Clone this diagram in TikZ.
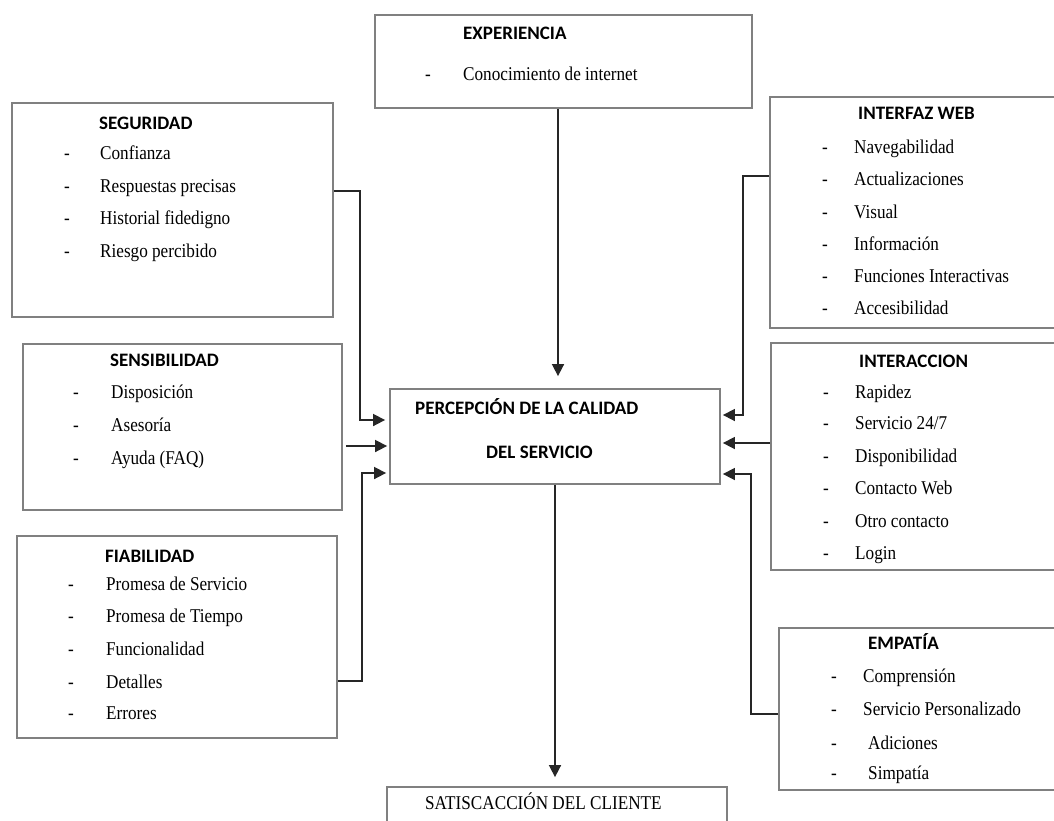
\documentclass[tikz,border=0pt]{standalone}
\usepackage{fontspec}
\setmainfont{Liberation Serif}
\newfontfamily\titlefont{Carlito}
\newfontfamily\itemfont[FakeStretch=0.88]{Liberation Serif}
\usetikzlibrary{arrows.meta}
\tikzset{
  box/.style={draw=black!50, line width=1.8pt, fill=white, inner sep=0pt, rectangle},
  conn/.style={draw=black!85, line width=1.6pt},
  arr/.style={conn, -{Triangle[length=12pt,width=12pt]}},
  ttl/.style={anchor=west, inner sep=0pt, text height=12.5pt, text depth=0pt, font=\titlefont\fontsize{19}{22}\selectfont\bfseries},
  itm/.style={anchor=west, inner sep=0pt, text height=13pt, text depth=0pt, font=\itemfont\fontsize{19.5}{22}\selectfont},
  dsh/.style={anchor=center, inner sep=0pt, text height=13pt, text depth=0pt, font=\itemfont\fontsize{19.5}{22}\selectfont},
}
\begin{document}
\begin{tikzpicture}[x=1pt,y=-1pt]
\useasboundingbox (0,0) rectangle (1054,820);
\clip (0,0) rectangle (1054,820);
\fill[white] (0,0) rectangle (1054,820);

% boxes
\node[box, minimum width=377pt, minimum height=93pt] (exp) at (563.5,61.5) {};
\node[box, minimum width=321pt, minimum height=214pt] (seg) at (172.5,210) {};
\node[box, minimum width=319pt, minimum height=166pt] (sen) at (182.5,427) {};
\node[box, minimum width=320pt, minimum height=202pt] (fia) at (177,637) {};
\node[box, minimum width=330pt, minimum height=95pt] (per) at (555,436.5) {};
\node[box, minimum width=290pt, minimum height=231pt] (iw) at (915,212.5) {};
\node[box, minimum width=289pt, minimum height=227pt] (int) at (915.5,456.5) {};
\node[box, minimum width=281pt, minimum height=162pt] (emp) at (919.5,709) {};
\node[box, minimum width=340pt, minimum height=53pt] (sat) at (557,813.5) {};

% EXPERIENCIA
\node[ttl] (expt) at (463,33) {EXPERIENCIA};
\node[dsh] (expd1) at (428,74) {-};
\node[itm] (expi1) at (463,74) {Conocimiento de internet};

% SEGURIDAD
\node[ttl] (segt) at (99,123) {SEGURIDAD};
\node[dsh] (segd1) at (67,153) {-};
\node[itm] (segi1) at (100,153) {Confianza};
\node[dsh] (segd2) at (67,186) {-};
\node[itm] (segi2) at (100,186) {Respuestas precisas};
\node[dsh] (segd3) at (67,218) {-};
\node[itm] (segi3) at (100,218) {Historial fidedigno};
\node[dsh] (segd4) at (67,251) {-};
\node[itm] (segi4) at (100,251) {Riesgo percibido};

% SENSIBILIDAD
\node[ttl] (sent) at (110,360) {SENSIBILIDAD};
\node[dsh] (send1) at (76,392) {-};
\node[itm] (seni1) at (111,392) {Disposición};
\node[dsh] (send2) at (76,425) {-};
\node[itm] (seni2) at (111,425) {Asesoría};
\node[dsh] (send3) at (76,458) {-};
\node[itm] (seni3) at (111,458) {Ayuda (FAQ)};

% FIABILIDAD
\node[ttl] (fiat) at (105,556) {FIABILIDAD};
\node[dsh] (fiad1) at (71,584) {-};
\node[itm] (fiai1) at (106,584) {Promesa de Servicio};
\node[dsh] (fiad2) at (71,616) {-};
\node[itm] (fiai2) at (106,616) {Promesa de Tiempo};
\node[dsh] (fiad3) at (71,649) {-};
\node[itm] (fiai3) at (106,649) {Funcionalidad};
\node[dsh] (fiad4) at (71,682) {-};
\node[itm] (fiai4) at (106,682) {Detalles};
\node[dsh] (fiad5) at (71,713) {-};
\node[itm] (fiai5) at (106,713) {Errores};

% PERCEPCION
\node[ttl] (pert1) at (415,408) {PERCEPCIÓN DE LA CALIDAD};
\node[ttl] (pert2) at (486,452) {DEL SERVICIO};

% INTERFAZ WEB
\node[ttl] (iwt) at (858,113) {INTERFAZ WEB};
\node[dsh] (iwd1) at (825,147) {-};
\node[itm] (iwi1) at (854,147) {Navegabilidad};
\node[dsh] (iwd2) at (825,179) {-};
\node[itm] (iwi2) at (854,179) {Actualizaciones};
\node[dsh] (iwd3) at (825,212) {-};
\node[itm] (iwi3) at (854,212) {Visual};
\node[dsh] (iwd4) at (825,244) {-};
\node[itm] (iwi4) at (854,244) {Información};
\node[dsh] (iwd5) at (825,276) {-};
\node[itm] (iwi5) at (854,276) {Funciones Interactivas};
\node[dsh] (iwd6) at (825,308) {-};
\node[itm] (iwi6) at (854,308) {Accesibilidad};

% INTERACCION
\node[ttl] (intt) at (859,361) {INTERACCION};
\node[dsh] (intd1) at (826,392) {-};
\node[itm] (inti1) at (855,392) {Rapidez};
\node[dsh] (intd2) at (826,423) {-};
\node[itm] (inti2) at (855,423) {Servicio 24/7};
\node[dsh] (intd3) at (826,456) {-};
\node[itm] (inti3) at (855,456) {Disponibilidad};
\node[dsh] (intd4) at (826,488) {-};
\node[itm] (inti4) at (855,488) {Contacto Web};
\node[dsh] (intd5) at (826,521) {-};
\node[itm] (inti5) at (855,521) {Otro contacto};
\node[dsh] (intd6) at (826,553) {-};
\node[itm] (inti6) at (855,553) {Login};

% EMPATIA
\node[ttl] (empt) at (868,643) {EMPATÍA};
\node[dsh] (empd1) at (834,676) {-};
\node[itm] (empi1) at (863,676) {Comprensión};
\node[dsh] (empd2) at (834,709) {-};
\node[itm] (empi2) at (863,709) {Servicio Personalizado};
\node[dsh] (empd3) at (834,743) {-};
\node[itm] (empi3) at (868,743) {Adiciones};
\node[dsh] (empd4) at (834,773) {-};
\node[itm] (empi4) at (868,773) {Simpatía};

% SATISFACCION
\node[itm] (satt) at (425,803) {SATISCACCIÓN DEL CLIENTE};

% connectors
\draw[arr, shorten >=12pt] (exp.south -| 558,0) -- (per.north -| 558,0);
\draw[arr, shorten >=9pt] (per.south -| 555,0) -- (sat.north -| 555,0);
\draw[arr, shorten >=4pt] (seg.east |- 0,191) -| (360,420) -- (per.west |- 0,420);
\draw[arr, shorten >=2pt] ([xshift=3pt]sen.east |- 0,446) -- (per.west |- 0,446);
\draw[arr, shorten >=3pt] (fia.east |- 0,681) -| (362,473) -- (per.west |- 0,473);
\draw[arr, shorten >=2pt] (iw.west |- 0,176) -| (743,415) -- (per.east |- 0,415);
\draw[arr, shorten >=2pt] (int.west |- 0,443) -- (per.east |- 0,443);
\draw[arr, shorten >=2pt] (emp.west |- 0,714) -| (751,474) -- (per.east |- 0,474);
\end{tikzpicture}
\end{document}
